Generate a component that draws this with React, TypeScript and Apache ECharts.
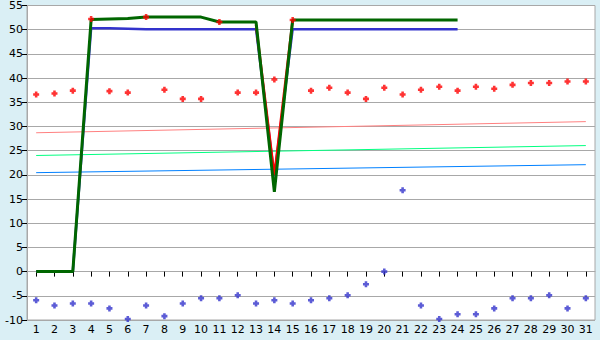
import React, { useEffect, useRef } from "react";
import * as echarts from "echarts";

const days = Array.from({ length: 31 }, (_, i) => String(i + 1));

const greenLine = [0, 0, 0, 52.1, 52.2, 52.3, 52.6, 52.6, 52.6, 52.6, 51.6, 51.6, 51.6, 16.5, 52.0, 52.0, 52.0, 52.0, 52.0, 52.0, 52.0, 52.0, 52.0, 52.0, null, null, null, null, null, null, null];
const blueLine = [0, 0, 0, 50.3, 50.3, 50.2, 50.1, 50.1, 50.1, 50.1, 50.1, 50.1, 50.1, 19.7, 50.1, 50.1, 50.1, 50.1, 50.1, 50.1, 50.1, 50.1, 50.1, 50.1, null, null, null, null, null, null, null];
const redDip = [[12, 51.0], [13, 19.9], [14, 52.0]];

const maxPoints = [36.6, 36.8, 37.4, 52.2, 37.3, 37.0, 52.6, 37.6, 35.7, 35.7, 51.6, 37.0, 37.0, 39.7, 52.0, 37.4, 38.0, 37.0, 35.7, 38.0, 36.6, 37.6, 38.2, 37.4, 38.2, 37.8, 38.6, 39.0, 39.0, 39.3, 39.3];
const minPoints = [-5.9, -7.0, -6.6, -6.6, -7.6, -9.8, -7.0, -9.2, -6.6, -5.5, -5.5, -4.9, -6.6, -5.9, -6.6, -5.9, -5.5, -4.9, -2.6, 0, 16.8, -7.0, -9.8, -8.8, -8.8, -7.6, -5.5, -5.5, -4.9, -7.6, -5.5];

const pinkTrend = [[0, 28.7], [30, 31.0]];
const greenTrend = [[0, 24.0], [30, 26.05]];
const blueTrend = [[0, 20.45], [30, 22.1]];

const plus = "path://M2,0H5V2H7V5H5V7H2V5H0V2H2Z";

export default function App() {
  const ref = useRef<HTMLDivElement>(null);
  useEffect(() => {
    const chart = echarts.init(ref.current!, null, { renderer: "svg" });
    const font = "DejaVu Sans";
    chart.setOption({
      animation: false,
      backgroundColor: "#daeff5",
      grid: {
        left: 27,
        right: 5,
        top: 5,
        bottom: 20,
        show: true,
        backgroundColor: "#ffffff",
        borderColor: "#a8a8a8",
        borderWidth: 1,
      },
      xAxis: {
        type: "category",
        data: days,
        boundaryGap: true,
        axisLine: { show: true, lineStyle: { color: "#a8a8a8" } },
        axisTick: { show: true, alignWithLabel: true, length: 5, lineStyle: { color: "#000" } },
        axisLabel: { color: "#000", fontSize: 11, fontFamily: font, margin: 4, interval: 0 },
        splitLine: { show: false },
      },
      yAxis: {
        type: "value",
        min: -10,
        max: 55,
        interval: 5,
        axisLine: { show: true, lineStyle: { color: "#a8a8a8" } },
        axisTick: { show: true, length: 5, lineStyle: { color: "#000" } },
        axisLabel: { color: "#000", fontSize: 11, fontFamily: font, margin: 4 },
        splitLine: { show: true, lineStyle: { color: "#a8a8a8", width: 1 } },
      },
      series: [
        { type: "line", data: pinkTrend, showSymbol: false, lineStyle: { color: "#ff8080", width: 1 }, z: 2 },
        { type: "line", data: greenTrend, showSymbol: false, lineStyle: { color: "#00ff80", width: 1 }, z: 2 },
        { type: "line", data: blueTrend, showSymbol: false, lineStyle: { color: "#0080ff", width: 1 }, z: 2 },
        { type: "line", data: blueLine, showSymbol: false, connectNulls: false, lineStyle: { color: "#3333cc", width: 2.5 }, z: 3 },
        { type: "line", data: redDip, showSymbol: false, lineStyle: { color: "#ff0000", width: 2.5 }, z: 4 },
        { type: "line", data: greenLine, showSymbol: false, connectNulls: false, lineStyle: { color: "#006600", width: 3 }, z: 5 },
        { type: "scatter", data: maxPoints, symbol: plus, symbolSize: 6, itemStyle: { color: "#ff0000" }, z: 6 },
        { type: "scatter", data: minPoints, symbol: plus, symbolSize: 6, itemStyle: { color: "#3333cc" }, z: 6 },
      ],
    });
    return () => chart.dispose();
  }, []);
  return (
    <div
      ref={ref}
      style={{ position: "fixed", left: 0, top: 0, width: 600, height: 340 }}
    />
  );
}
